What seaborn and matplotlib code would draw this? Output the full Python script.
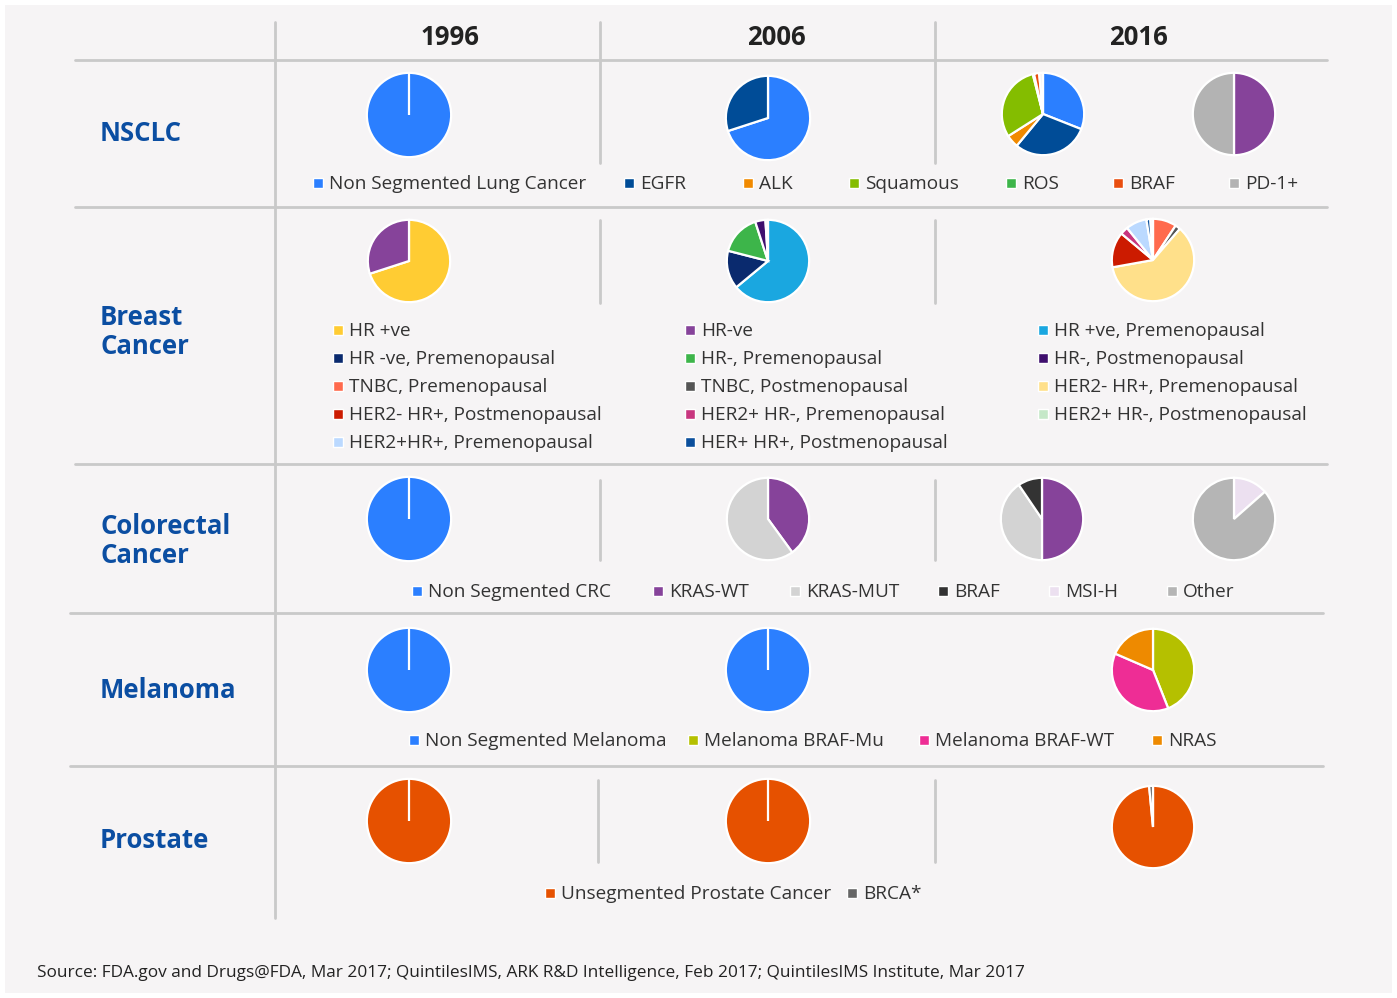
import matplotlib
matplotlib.use('Agg')
import matplotlib.pyplot as plt
import seaborn as sns

sns.set_theme(style='white')
plt.rcParams['font.family'] = ['Open Sans', 'DejaVu Sans']

W, H = 1397, 998

# ---- data ----
years = ['1996', '2006', '2016']
rows = ['NSCLC', 'Breast\nCancer', 'Colorectal\nCancer', 'Melanoma', 'Prostate']

# NSCLC
nsclc_labels = ['Non Segmented Lung Cancer', 'EGFR', 'ALK', 'Squamous', 'ROS', 'BRAF', 'PD-1+']
nsclc_colors = ['#2B7FFF', '#004C97', '#F18A00', '#84BD00', '#3DB54A', '#E94E0F', '#B3B3B3']
nsclc_1996 = [100, 0]
nsclc_2006 = [70, 30]
nsclc_2016_a = [31, 30, 5, 30, 0.5, 2, 1.5]
nsclc_2016_b = [50, 50]

# Breast
breast_labels = ['HR +ve', 'HR -ve, Premenopausal', 'TNBC, Premenopausal',
                 'HER2- HR+, Postmenopausal', 'HER2+HR+, Premenopausal',
                 'HR-ve', 'HR-, Premenopausal', 'TNBC, Postmenopausal',
                 'HER2+ HR-, Premenopausal', 'HER+ HR+, Postmenopausal',
                 'HR +ve, Premenopausal', 'HR-, Postmenopausal',
                 'HER2- HR+, Premenopausal', 'HER2+ HR-, Postmenopausal']
breast_colors = ['#FFCC33', '#0A2A6E', '#FF6A4D', '#CC1B00', '#BBD9FF',
                 '#86439A', '#3DB54A', '#555555', '#C8367F', '#0B4F9C',
                 '#1AA7E0', '#3F0F6E', '#FFE08A', '#C5E8C8']
breast_1996 = [70, 30]
breast_2006 = [64, 15, 16, 4, 1]
breast_2016 = [9, 2, 59, 13.5, 3, 8, 1.5, 1]

# Colorectal
crc_labels = ['Non Segmented CRC', 'KRAS-WT', 'KRAS-MUT', 'BRAF', 'MSI-H', 'Other']
crc_colors = ['#2B7FFF', '#86439A', '#D3D3D3', '#333333', '#ECE0F0', '#B5B5B5']
crc_1996 = [100, 0]
crc_2006 = [40, 60]
crc_2016_a = [50, 40.5, 9.5]
crc_2016_b = [13.5, 86.5]

# Melanoma
mel_labels = ['Non Segmented Melanoma', 'Melanoma BRAF-Mu', 'Melanoma BRAF-WT', 'NRAS']
mel_colors = ['#2B7FFF', '#B5C000', '#EE2D95', '#EE8A00']
mel_1996 = [100, 0]
mel_2006 = [100, 0]
mel_2016 = [44, 37.5, 18.5]

# Prostate
pro_labels = ['Unsegmented Prostate Cancer', 'BRCA*']
pro_colors = ['#E65100', '#666666']
pro_1996 = [100, 0]
pro_2006 = [100, 0]
pro_2016 = [98.5, 1.5]

source = ('Source: FDA.gov and Drugs@FDA, Mar 2017; QuintilesIMS, ARK R&D Intelligence, '
          'Feb 2017; QuintilesIMS Institute, Mar 2017')

# ---- figure ----
fig = plt.figure(figsize=(W / 100, H / 100), dpi=100, facecolor='white')
base = fig.add_axes([0, 0, 1, 1])
base.set_xlim(0, W)
base.set_ylim(H, 0)
base.axis('off')
base.add_patch(plt.Rectangle((5, 5), W - 10, H - 10, facecolor='#F6F4F5', edgecolor='none'))

grid = '#C9C9C9'
for y, x0, x1 in [(60, 75, 1327), (207, 75, 1327), (464, 75, 1327), (613, 70, 1323), (766, 70, 1323)]:
    base.plot([x0, x1], [y, y], color=grid, lw=2)
base.plot([275, 275], [22, 918], color=grid, lw=2)
for x, y0, y1 in [(600, 22, 163), (935, 22, 163), (600, 220, 303), (935, 220, 303),
                  (600, 480, 560), (935, 480, 560), (598, 780, 862), (935, 780, 862)]:
    base.plot([x, x], [y0, y1], color=grid, lw=2)

for yr, x in zip(years, [450, 776, 1138]):
    base.text(x, 37, yr, ha='center', va='center', fontsize=18.5, fontweight='bold', color='#222222')

for lab, y in zip(rows, [133, 332, 541, 691, 841]):
    base.text(100, y, lab, ha='left', va='center', fontsize=18.5, fontweight='bold',
              color='#0B4EA2', linespacing=1.08)

base.text(37, 973, source, ha='left', va='center', fontsize=12.4, color='#222222')


def pie(cx, cy, r, values, colors):
    ax = fig.add_axes([(cx - r) / W, 1 - (cy + r) / H, 2 * r / W, 2 * r / H])
    ax.pie(values, colors=colors, startangle=90, counterclock=False,
           wedgeprops=dict(edgecolor='white', linewidth=1.6))
    ax.set_xlim(-1.02, 1.02)
    ax.set_ylim(-1.02, 1.02)
    ax.axis('off')


def legend(items, y):
    for (x, label, color) in items:
        base.add_patch(plt.Rectangle((x - 5, y - 5), 10, 10, facecolor=color,
                                     edgecolor='white', lw=1))
        base.text(x + 11, y + 1, label, ha='left', va='center', fontsize=13.7, color='#333333')


c = nsclc_colors
pie(409, 115, 43, nsclc_1996, [c[0], c[0]])
pie(768, 118, 43, nsclc_2006, [c[0], c[1]])
pie(1043, 114, 42, nsclc_2016_a, [c[0], c[1], c[2], c[3], c[4], c[5], '#F6F4F5'])
pie(1234, 114, 42, nsclc_2016_b, ['#86439A', c[6]])
legend(zip([318, 629, 748, 854, 1011, 1118, 1234], nsclc_labels, nsclc_colors), 183)

b = breast_colors
pie(409, 261, 42, breast_1996, [b[0], b[5]])
pie(768, 261, 42, breast_2006, [b[10], b[1], b[6], b[11], '#F6F4F5'])
pie(1153, 260, 42, breast_2016, [b[2], b[7], b[12], b[3], b[8], b[4], b[9], '#F6F4F5'])
for col, x in enumerate([338, 690, 1043]):
    for i in range(5):
        k = col * 5 + i
        if k < len(breast_labels):
            legend([(x, breast_labels[k], breast_colors[k])], 330 + 28 * i)

k = crc_colors
pie(409, 519, 43, crc_1996, [k[0], k[0]])
pie(768, 519, 42, crc_2006, [k[1], k[2]])
pie(1042, 519, 42, crc_2016_a, [k[1], k[2], k[3]])
pie(1234, 519, 42, crc_2016_b, [k[4], k[5]])
legend(zip([417, 658, 795, 943, 1054, 1172], crc_labels, crc_colors), 591)

m = mel_colors
pie(409, 670, 43, mel_1996, [m[0], m[0]])
pie(768, 670, 43, mel_2006, [m[0], m[0]])
pie(1153, 670, 42, mel_2016, [m[1], m[2], m[3]])
legend(zip([414, 693, 924, 1157], mel_labels, mel_colors), 740)

p = pro_colors
pie(409, 821, 43, pro_1996, [p[0], p[0]])
pie(768, 821, 43, pro_2006, [p[0], p[0]])
pie(1153, 827, 42, pro_2016, [p[0], p[1]])
legend(zip([550, 852], pro_labels, pro_colors), 893)

fig.savefig('out.png', dpi=100, facecolor='white')
